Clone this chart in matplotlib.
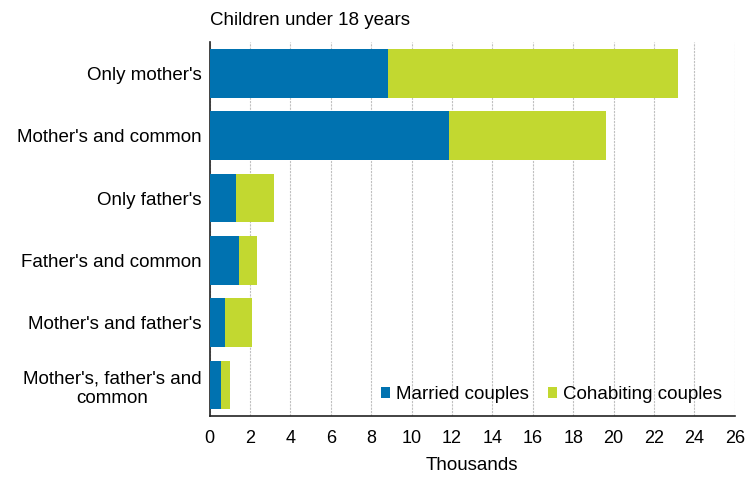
import matplotlib
matplotlib.use('Agg')
import matplotlib.pyplot as plt

plt.rcParams['font.family'] = ['Liberation Sans', 'DejaVu Sans']

categories = ["Only mother's", "Mother's and common", "Only father's",
              "Father's and common", "Mother's and father's",
              "Mother's, father's and\ncommon"]
married = [8.85, 11.85, 1.29, 1.45, 0.76, 0.58]
cohabiting = [14.35, 7.79, 1.91, 0.89, 1.33, 0.41]
xticks = list(range(0, 27, 2))

blue = '#0072b0'
green = '#c2d830'

fig = plt.figure(figsize=(7.49, 4.79), dpi=100)
ax = fig.add_axes([0.280, 0.131, 0.701, 0.781])

y = list(range(len(categories)))
ax.barh(y, married, height=0.78, color=blue, label='Married couples', zorder=3)
ax.barh(y, cohabiting, left=married, height=0.78, color=green,
        label='Cohabiting couples', zorder=3)

ax.set_xlim(0, 26)
ax.set_ylim(len(categories) - 0.5, -0.5)
ax.set_xticks(xticks)
ax.set_yticks(y)
ax.set_yticklabels(categories, fontsize=13.5, multialignment='center')
ax.tick_params(axis='x', labelsize=13, length=0, pad=10)
ax.tick_params(axis='y', length=0, pad=6)
ax.grid(axis='x', color='#c0c0c0', linestyle=(0, (2, 1)), linewidth=0.8, zorder=0)

for s in ['top', 'right']:
    ax.spines[s].set_visible(False)
ax.spines['left'].set_color('#222222')
ax.spines['bottom'].set_color('#222222')
ax.spines['left'].set_linewidth(1.2)
ax.spines['bottom'].set_linewidth(1.2)

ax.set_xlabel('Thousands', fontsize=13.5, labelpad=7)
fig.text(0.280, 0.94, 'Children under 18 years', fontsize=13.5, ha='left', va='bottom')

ax.legend(loc='lower right', ncol=2, frameon=False, fontsize=13.5,
          handlelength=0.5, handleheight=0.5, handletextpad=0.3,
          columnspacing=1.0, borderaxespad=0.3)

fig.savefig('out.png', dpi=100)
